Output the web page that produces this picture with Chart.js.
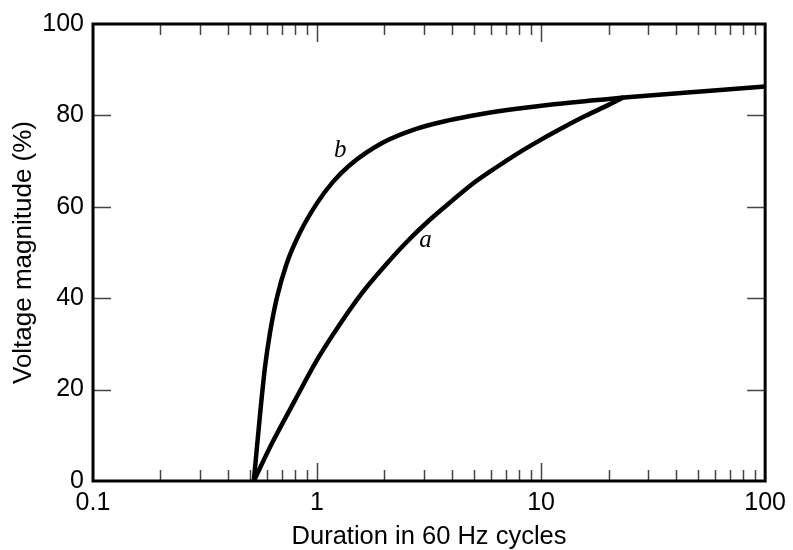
<!DOCTYPE html>
<html>
<head>
<meta charset="utf-8">
<script src="https://cdn.jsdelivr.net/npm/chart.js@4.4.0/dist/chart.umd.min.js"></script>
<style>
  html, body { margin: 0; padding: 0; background: #fff; }
</style>
</head>
<body>
<canvas id="chartCanva" width="793" height="550"></canvas>
<script>
// curve a (duration in cycles, voltage %)
var aCycles = [0.522, 0.63, 0.8, 1, 1.26, 1.58, 2, 2.5, 3.16, 4, 5, 6.3, 7.94, 10, 12.6, 15.8, 20, 23.4];
var aVoltage = [0, 8.3, 17.8, 26.5, 34.2, 41, 47, 52.2, 57, 61.3, 65.2, 68.6, 71.8, 74.7, 77.4, 79.9, 82.3, 84];

// curve b
var bCycles = [0.522, 0.557, 0.586, 0.617, 0.661, 0.731, 0.838, 1.0, 1.175, 1.39, 1.96, 2.75, 3.86, 5.43, 7.62, 10.7, 17.8, 23.4, 50, 100];
var bVoltage = [0, 14.7, 25, 32.5, 40, 47.5, 54.3, 60.8, 65.4, 69, 74, 77, 78.9, 80.3, 81.4, 82.3, 83.35, 83.9, 85.2, 86.3];

var xTickValues = [0.1, 1, 10, 100];
var yTickValues = [20, 40, 60, 80];

// curve names and where they sit (data coords)
var curveLabels = [
  { text: 'b', x: 1.27, y: 70.8 },
  { text: 'a', x: 3.05, y: 51.2 }
];

function toPoints(xs, ys) {
  return xs.map(function(x, i) { return { x: x, y: ys[i] }; });
}

// frame + inside ticks + the italic curve names
var frameTicks = {
  id: 'frameTicks',
  afterDatasetsDraw: function(chart) {
    var ctx = chart.ctx;
    var a = chart.chartArea;
    var xs = chart.scales.x, ys = chart.scales.y;
    ctx.save();
    ctx.strokeStyle = '#444';
    ctx.lineWidth = 1.5;
    ctx.beginPath();
    [0.1, 1, 10].forEach(function(d) {
      for (var k = 1; k <= 9; k++) {
        var v = d * k;
        if (v <= 0.1) continue;
        var px = Math.round(xs.getPixelForValue(v)) + 0.5;
        var len = (k === 1) ? 18 : 11;
        ctx.moveTo(px, a.bottom); ctx.lineTo(px, a.bottom - len);
        ctx.moveTo(px, a.top); ctx.lineTo(px, a.top + len);
      }
    });
    yTickValues.forEach(function(v) {
      var py = Math.round(ys.getPixelForValue(v)) + 0.5;
      ctx.moveTo(a.left, py); ctx.lineTo(a.left + 18, py);
      ctx.moveTo(a.right, py); ctx.lineTo(a.right - 18, py);
    });
    ctx.stroke();

    ctx.strokeStyle = '#000';
    ctx.lineWidth = 3;
    ctx.strokeRect(a.left, a.top, a.right - a.left, a.bottom - a.top);

    ctx.fillStyle = '#000';
    ctx.font = 'italic 25px "Liberation Serif", "DejaVu Serif", serif';
    ctx.textAlign = 'center';
    ctx.textBaseline = 'alphabetic';
    curveLabels.forEach(function(l) {
      ctx.fillText(l.text, xs.getPixelForValue(l.x), ys.getPixelForValue(l.y));
    });
    ctx.restore();
  }
};

var sansFont = '"Liberation Sans", Arial, Helvetica, sans-serif';

const data = {
  datasets: [
    {
      label: 'a',
      data: toPoints(aCycles, aVoltage),
      borderColor: '#000',
      borderWidth: 4.5,
      pointRadius: 0,
      cubicInterpolationMode: 'monotone',
      fill: false
    },
    {
      label: 'b',
      data: toPoints(bCycles, bVoltage),
      borderColor: '#000',
      borderWidth: 4.5,
      pointRadius: 0,
      cubicInterpolationMode: 'monotone',
      fill: false
    }
  ]
};

const config = {
  type: 'line',
  data: data,
  options: {
    responsive: false,
    animation: false,
    devicePixelRatio: 1,
    layout: { padding: { top: 20, right: 23, left: 0, bottom: 0 } },
    plugins: {
      legend: { display: false },
      tooltip: { enabled: false }
    },
    scales: {
      x: {
        type: 'logarithmic',
        min: 0.1,
        max: 100,
        afterBuildTicks: function(scale) {
          scale.ticks = xTickValues.map(function(v) { return { value: v }; });
        },
        afterFit: function(scale) { scale.height = 69; },
        grid: { display: false, drawTicks: false },
        border: { display: false },
        ticks: {
          autoSkip: false,
          maxRotation: 0,
          padding: 7,
          color: '#000',
          font: { family: sansFont, size: 25 },
          callback: function(v) { return String(v); }
        },
        title: {
          display: true,
          text: 'Duration in 60 Hz cycles',
          color: '#000',
          padding: 0,
          font: { family: sansFont, size: 25.5, lineHeight: 1 }
        }
      },
      y: {
        min: 0,
        max: 100,
        afterFit: function(scale) { scale.width = 93; },
        grid: { display: false, drawTicks: false },
        border: { display: false },
        ticks: {
          stepSize: 20,
          padding: 9,
          color: '#000',
          font: { family: sansFont, size: 25 }
        },
        title: {
          display: true,
          text: 'Voltage magnitude (%)',
          color: '#000',
          padding: { top: 11, bottom: 0 },
          font: { family: sansFont, size: 26, lineHeight: 1 }
        }
      }
    }
  },
  plugins: [frameTicks]
};

var myChart = new Chart(document.getElementById('chartCanva'), config);
</script>
</body>
</html>
